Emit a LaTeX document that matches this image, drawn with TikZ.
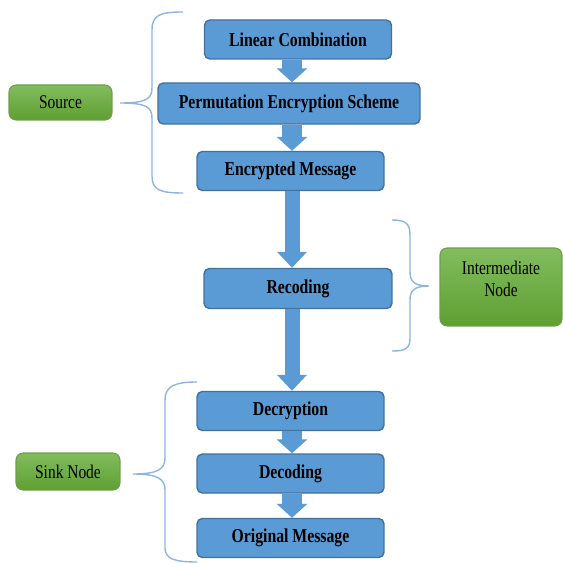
\documentclass[tikz,border=0pt]{standalone}
\usepackage{fontspec}
\setmainfont{Liberation Serif}[FakeStretch=0.8]
\usepackage{tikz}
\usepackage{xcolor}
\usetikzlibrary{arrows.meta}

\definecolor{boxblue}{HTML}{5B9BD5}
\definecolor{boxedge}{HTML}{41719C}
\definecolor{greentop}{HTML}{82BD5E}
\definecolor{greenbot}{HTML}{5E9F32}
\definecolor{greenedge}{HTML}{6E9E4C}
\definecolor{bracecol}{HTML}{8EB4E3}

\begin{document}
\begin{tikzpicture}[x=0.02cm, y=-0.02cm, font=\fontsize{11}{12.5}\selectfont,
    procbox/.style={draw=boxedge, fill=boxblue, line width=0.8pt, rounded corners=3pt,
        inner sep=0pt, minimum width=3.74cm, minimum height=0.78cm, font=\fontsize{11.2}{12.5}\selectfont\bfseries},
    rolebox/.style={draw=greenedge, top color=greentop, bottom color=greenbot, line width=0.6pt,
        rounded corners=4pt, inner sep=0pt, align=center},
    shortarrow/.style={draw=boxblue, line width=0.4cm, -{Triangle[length=0.28cm, width=0.6cm]}},
    longarrow/.style={draw=boxblue, line width=0.3cm, -{Triangle[length=0.32cm, width=0.58cm]}},
    curlybrace/.style={draw=bracecol, line width=0.8pt}]
    \useasboundingbox (0,0) rectangle (562,563);

    % flow boxes
    \node[procbox] (lincomb) at (298,39.5) {Linear Combination};
    \node[procbox, minimum width=5.24cm, minimum height=0.82cm] (permenc) at (289,103.5) {Permutation Encryption Scheme};
    \node[procbox] (encmsg) at (290.5,171) {Encrypted Message};
    \node[procbox, minimum width=3.76cm, minimum height=0.8cm] (recode) at (298,288.5) {Recoding};
    \node[procbox] (decrypt) at (290.5,411) {Decryption};
    \node[procbox] (decode) at (290.5,473.5) {Decoding};
    \node[procbox] (origmsg) at (290.5,538) {Original Message};

    % roles
    \node[rolebox, minimum width=2.06cm, minimum height=0.7cm] (source) at (60.5,102.5) {Source};
    \node[rolebox, minimum width=2.44cm, minimum height=1.56cm] (inter) at (501,287) {};
    \node[align=center] (intertext) at (501,279) {Intermediate\\Node};
    \node[rolebox, minimum width=2.08cm, minimum height=0.74cm] (sink) at (68,471.5) {Sink Node};

    % arrows
    \coordinate (axis) at (292,0);
    \draw[shortarrow] (lincomb.south -| axis) -- (permenc.north -| axis);
    \draw[shortarrow] (permenc.south -| axis) -- (encmsg.north -| axis);
    \draw[longarrow] (encmsg.south -| axis) -- (recode.north -| axis);
    \draw[longarrow] (recode.south -| axis) -- (decrypt.north -| axis);
    \draw[shortarrow] (decrypt.south -| axis) -- (decode.north -| axis);
    \draw[shortarrow] (decode.south -| axis) -- (origmsg.north -| axis);

    % braces
    \coordinate (sourcetip) at (120,103);
    \coordinate (intertip) at (429,286);
    \coordinate (sinktip) at (133,474);
    \draw[curlybrace] (183,12) .. controls (160,12) and (152,15) .. (152,30) -- (152,88)
        .. controls (152,99) and (146,103) .. (sourcetip)
        .. controls (146,103) and (152,107) .. (152,118) -- (152,176)
        .. controls (152,190) and (160,193) .. (183,193);
    \draw[curlybrace] (392,220) .. controls (405,220) and (410,223) .. (410,235) -- (410,272)
        .. controls (410,282) and (415,286) .. (intertip)
        .. controls (415,286) and (410,290) .. (410,300) -- (410,338)
        .. controls (410,349) and (405,351) .. (392,351);
    \draw[curlybrace] (197,382) .. controls (175,382) and (165,386) .. (165,400) -- (165,458)
        .. controls (165,469) and (158,474) .. (sinktip)
        .. controls (158,474) and (165,479) .. (165,490) -- (165,548)
        .. controls (165,559) and (175,562) .. (197,562);
\end{tikzpicture}
\end{document}
